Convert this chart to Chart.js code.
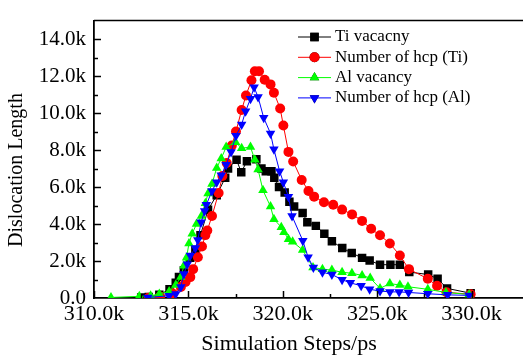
<!DOCTYPE html>
<html>
<head>
<meta charset="utf-8">
<script src="https://cdn.jsdelivr.net/npm/chart.js@4.4.0/dist/chart.umd.min.js"></script>
<style>
    html, body { margin: 0; padding: 0; background: #fff; }
</style>
</head>
<body>
<canvas id="dislocChart" width="528" height="356"></canvas>
<script>
// values in thousands (k)
const tiVacX = [312.5, 312.9, 313.46, 314.0, 314.33, 314.5, 314.76, 315.1, 315.37, 315.64, 316.04, 316.5, 316.95, 317.1, 317.55, 317.8, 318.1, 318.6, 318.87, 319.1, 319.4, 319.55, 319.8, 320.1, 320.35, 320.6, 321.05, 321.3, 321.75, 322.2, 322.6, 323.15, 323.65, 324.2, 324.6, 325.15, 325.7, 326.2, 326.7, 327.7, 328.2, 328.7, 329.95];
const tiVacY = [0.03, 0.05, 0.17, 0.47, 0.82, 1.13, 1.5, 2.17, 2.6, 3.4, 4.77, 5.56, 6.5, 7.0, 7.47, 6.8, 7.4, 7.5, 7.0, 6.85, 6.85, 6.5, 6.0, 5.7, 5.2, 4.95, 4.6, 4.1, 3.9, 3.47, 3.07, 2.7, 2.43, 2.17, 2.03, 1.8, 1.8, 1.8, 1.4, 1.27, 1.04, 0.52, 0.26];

const hcpTiX = [312.9, 313.5, 314.15, 314.6, 314.85, 315.1, 315.25, 315.5, 315.72, 315.9, 316.0, 316.25, 316.6, 316.8, 317.03, 317.3, 317.52, 317.82, 318.05, 318.34, 318.52, 318.74, 319.04, 319.35, 319.53, 319.86, 320.03, 320.3, 320.55, 321.0, 321.36, 321.66, 322.18, 322.67, 323.14, 323.67, 324.2, 324.68, 325.15, 325.67, 326.2, 326.68, 327.68, 328.17, 328.67, 329.95];
const hcpTiY = [0.02, 0.08, 0.26, 0.6, 0.87, 1.13, 1.56, 2.2, 2.78, 3.4, 3.65, 4.43, 5.68, 6.6, 7.3, 8.25, 9.0, 10.17, 10.95, 11.77, 12.26, 12.26, 11.8, 11.55, 11.1, 10.25, 9.33, 7.9, 7.38, 6.38, 5.79, 5.48, 5.18, 5.04, 4.78, 4.52, 4.17, 3.74, 3.39, 2.95, 2.3, 1.56, 1.04, 0.66, 0.31, 0.2];

const alVacX = [310.9, 312.4, 313.0, 313.46, 313.98, 314.33, 314.6, 314.76, 314.9, 315.03, 315.2, 315.43, 315.69, 315.9, 316.04, 316.25, 316.5, 316.74, 317.0, 317.5, 317.82, 318.29, 318.52, 318.69, 318.95, 319.35, 319.53, 319.92, 320.06, 320.3, 320.52, 321.05, 321.6, 322.1, 322.6, 323.14, 323.66, 324.2, 324.63, 325.15, 325.67, 326.2, 326.63, 327.68, 328.64, 329.87];
const alVacY = [0.03, 0.09, 0.12, 0.22, 0.35, 0.7, 1.13, 1.74, 2.17, 2.95, 3.48, 4.0, 4.43, 5.13, 5.65, 6.17, 7.03, 7.55, 8.16, 8.42, 8.1, 8.16, 7.47, 6.95, 5.82, 4.95, 4.26, 3.83, 3.56, 3.18, 3.04, 2.6, 1.65, 1.56, 1.51, 1.39, 1.34, 1.22, 1.08, 0.52, 0.78, 0.7, 0.61, 0.47, 0.3, 0.19];

const hcpAlX = [312.85, 313.98, 314.33, 314.6, 314.76, 314.94, 315.1, 315.37, 315.5, 315.67, 315.86, 315.95, 316.25, 316.5, 316.74, 317.0, 317.26, 317.52, 317.82, 318.03, 318.29, 318.48, 318.69, 318.99, 319.35, 319.53, 319.83, 320.03, 320.3, 320.49, 321.06, 321.34, 321.62, 322.1, 322.6, 323.14, 323.58, 324.15, 324.6, 325.15, 325.67, 326.16, 326.66, 327.68, 328.73, 329.87];
const hcpAlY = [0.03, 0.12, 0.22, 0.6, 1.3, 1.83, 2.3, 2.7, 3.13, 4.09, 4.7, 5.04, 5.79, 6.26, 6.64, 7.2, 7.9, 8.77, 9.38, 10.1, 10.78, 11.39, 10.87, 9.74, 8.9, 8.04, 6.86, 6.26, 5.47, 4.43, 3.1, 2.2, 1.65, 1.39, 1.27, 0.99, 0.82, 0.66, 0.47, 0.38, 0.33, 0.33, 0.3, 0.23, 0.17, 0.14];

const seriesNames = ["Ti vacacny", "Number of hcp (Ti)", "Al vacancy", "Number of hcp (Al)"];

const serif = "'Liberation Serif', 'Times New Roman', serif";

function toPoints(xs, ys) {
    return xs.map((x, i) => ({ x: x, y: ys[i] }));
}

function fmtK(v) {
    if (v === 0) return "0.0";
    return v.toFixed(1) + "k";
}

// inward tick marks, top frame line, axis titles and the in-plot legend
const framePlugin = {
    id: "frame",
    afterDraw(chart) {
        const ctx = chart.ctx;
        const area = chart.chartArea;
        const xs = chart.scales.x;
        const ys = chart.scales.y;

        ctx.save();
        ctx.strokeStyle = "#000";
        ctx.lineWidth = 1.5;
        ctx.beginPath();
        ctx.moveTo(area.left, area.top);
        ctx.lineTo(area.right + 1, area.top);
        ctx.stroke();

        for (let v = 310; v <= 332; v += 2.5) {
            const px = Math.round(xs.getPixelForValue(v)) + 0.5;
            const len = (v % 5 === 0) ? 7 : 4;
            ctx.beginPath();
            ctx.moveTo(px, area.bottom);
            ctx.lineTo(px, area.bottom - len);
            ctx.stroke();
        }
        for (let v = 1; v <= 14; v += 1) {
            const py = Math.round(ys.getPixelForValue(v)) + 0.5;
            const len = (v % 2 === 0) ? 7 : 4;
            ctx.beginPath();
            ctx.moveTo(area.left, py);
            ctx.lineTo(area.left + len, py);
            ctx.stroke();
        }

        ctx.fillStyle = "#000";
        ctx.textAlign = "center";
        ctx.textBaseline = "middle";
        ctx.font = "22px " + serif;
        ctx.fillText("Simulation Steps/ps", 289, 344);
        ctx.font = "20px " + serif;
        ctx.translate(17, 170);
        ctx.rotate(-Math.PI / 2);
        ctx.fillText("Dislocation Length", 0, 0);
        ctx.restore();

        ctx.save();
        ctx.font = "17px " + serif;
        ctx.textBaseline = "middle";
        chart.data.datasets.forEach((ds, i) => {
            const y = 37 + i * 20.3;
            ctx.strokeStyle = ds.borderColor;
            ctx.lineWidth = 1;
            ctx.beginPath();
            ctx.moveTo(298, y);
            ctx.lineTo(331, y);
            ctx.stroke();
            Chart.helpers.drawPoint(ctx, {
                pointStyle: ds.pointStyle,
                rotation: ds.pointRotation || 0,
                radius: ds.pointRadius,
                borderWidth: 0
            }, 314.5, y);
            ctx.fillStyle = ds.pointBackgroundColor;
            ctx.fill();
            ctx.fillStyle = "#000";
            ctx.fillText(ds.label, 335, y);
        });
        ctx.restore();
    }
};

const ctx = document.getElementById("dislocChart");

new Chart(ctx, {
    type: "line",
    data: {
        datasets: [
            {
                label: seriesNames[0],
                data: toPoints(tiVacX, tiVacY),
                borderColor: "#000000",
                backgroundColor: "#000000",
                pointBackgroundColor: "#000000",
                pointBorderColor: "#000000",
                pointStyle: "rect",
                pointRadius: 6,
                borderWidth: 1,
                pointBorderWidth: 0,
                order: 3
            },
            {
                label: seriesNames[1],
                data: toPoints(hcpTiX, hcpTiY),
                borderColor: "#ff0000",
                backgroundColor: "#ff0000",
                pointBackgroundColor: "#ff0000",
                pointBorderColor: "#ff0000",
                pointStyle: "circle",
                pointRadius: 5,
                borderWidth: 1,
                pointBorderWidth: 0,
                order: 2
            },
            {
                label: seriesNames[2],
                data: toPoints(alVacX, alVacY),
                borderColor: "#00ff00",
                backgroundColor: "#00ff00",
                pointBackgroundColor: "#00ff00",
                pointBorderColor: "#00ff00",
                pointStyle: "triangle",
                pointRadius: 5.5,
                borderWidth: 1,
                pointBorderWidth: 0,
                order: 1
            },
            {
                label: seriesNames[3],
                data: toPoints(hcpAlX, hcpAlY),
                borderColor: "#0000ff",
                backgroundColor: "#0000ff",
                pointBackgroundColor: "#0000ff",
                pointBorderColor: "#0000ff",
                pointStyle: "triangle",
                pointRotation: 180,
                pointRadius: 5.5,
                borderWidth: 1,
                pointBorderWidth: 0,
                order: 0
            }
        ]
    },
    options: {
        responsive: false,
        animation: false,
        layout: {
            padding: { top: 10, right: 1, left: 0, bottom: 0 }
        },
        plugins: {
            legend: { display: false },
            tooltip: { enabled: false }
        },
        scales: {
            x: {
                type: "linear",
                min: 310,
                max: 332.67,
                afterFit: function (scale) { scale.height = 58; },
                grid: { display: false, drawTicks: false },
                border: { display: true, color: "#000", width: 1.8 },
                ticks: {
                    stepSize: 5,
                    includeBounds: false,
                    maxRotation: 0,
                    autoSkip: false,
                    padding: 3,
                    color: "#000",
                    font: { family: serif, size: 22 },
                    callback: function (v) { return fmtK(v); }
                }
            },
            y: {
                min: 0,
                max: 15,
                afterFit: function (scale) { scale.width = 94; },
                grid: { display: false, drawTicks: false },
                border: { display: true, color: "#000", width: 1.8 },
                ticks: {
                    stepSize: 2,
                    includeBounds: false,
                    padding: 8,
                    color: "#000",
                    font: { family: serif, size: 21 },
                    callback: function (v) { return fmtK(v); }
                }
            }
        }
    },
    plugins: [framePlugin]
});
</script>
</body>
</html>
